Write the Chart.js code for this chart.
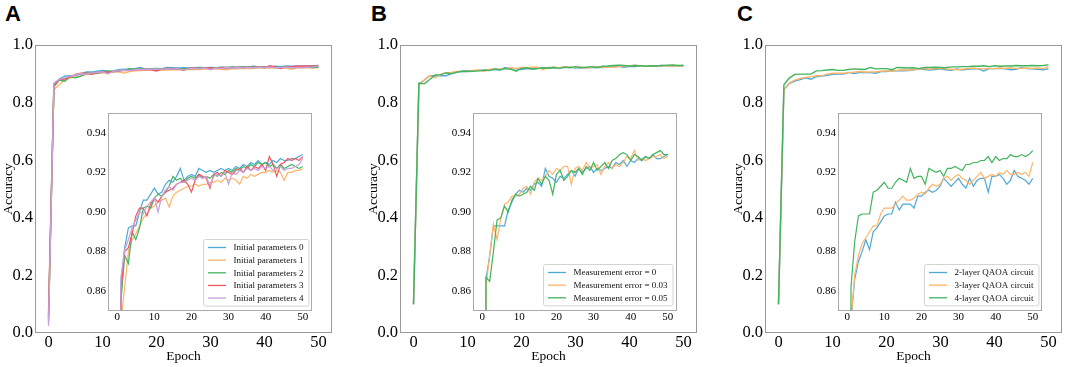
<!DOCTYPE html>
<html lang="en">
<head>
<meta charset="UTF-8">
<title>QAOA training accuracy</title>
<script src="https://cdn.jsdelivr.net/npm/chart.js"></script>
<style>
  body { margin: 0; background: #fff; width: 1065px; height: 367px; position: relative; overflow: hidden; }
  .tag { position: absolute; top: 1px; font: bold 22px 'Liberation Sans', Arial, sans-serif; color: #000; }
  canvas { position: absolute; }
</style>
</head>
<body>
<div class="tag" style="left:5px">A</div>
<div class="tag" style="left:371px">B</div>
<div class="tag" style="left:737px">C</div>

<canvas id="mainA" width="355" height="367" style="left:0;top:0"></canvas>
<canvas id="mainB" width="355" height="367" style="left:365px;top:0"></canvas>
<canvas id="mainC" width="335" height="367" style="left:730px;top:0"></canvas>
<canvas id="insetA" width="250" height="225" style="left:70px;top:100px"></canvas>
<canvas id="insetB" width="250" height="225" style="left:435px;top:100px"></canvas>
<canvas id="insetC" width="250" height="225" style="left:800px;top:100px"></canvas>

<script>
// epochs and tick labels
const epochs = [0, 1, 2, 3, 4, 5, 6, 7, 8, 9, 10, 11, 12, 13, 14, 15, 16, 17, 18, 19, 20,
  21, 22, 23, 24, 25, 26, 27, 28, 29, 30, 31, 32, 33, 34, 35, 36, 37, 38, 39, 40,
  41, 42, 43, 44, 45, 46, 47, 48, 49, 50];
const xTicks = [0, 10, 20, 30, 40, 50];
const mainYTicks = [0, 0.2, 0.4, 0.6, 0.8, 1.0];
const insetYTicks = [0.86, 0.88, 0.90, 0.92, 0.94];

// panel A: different initial parameters
const initLabels = ['Initial parameters 0', 'Initial parameters 1', 'Initial parameters 2',
  'Initial parameters 3', 'Initial parameters 4'];
const init0 = [0.05, 0.865, 0.882, 0.892, 0.893, 0.893, 0.900, 0.906, 0.906, 0.909, 0.912,
  0.909, 0.910, 0.914, 0.916, 0.915, 0.918, 0.922, 0.916, 0.918, 0.919,
  0.918, 0.922, 0.921, 0.920, 0.921, 0.920, 0.921, 0.922, 0.921, 0.922,
  0.921, 0.923, 0.922, 0.924, 0.923, 0.925, 0.924, 0.926, 0.924, 0.925,
  0.924, 0.926, 0.925, 0.927, 0.926, 0.926, 0.927, 0.927, 0.928, 0.929];
const init1 = [0.08, 0.845, 0.862, 0.880, 0.886, 0.889, 0.893, 0.897, 0.899, 0.902, 0.903,
  0.905, 0.906, 0.907, 0.9025, 0.908, 0.910, 0.911, 0.912, 0.913, 0.913,
  0.914, 0.913, 0.914, 0.914, 0.915, 0.915, 0.916, 0.915, 0.917, 0.916,
  0.917, 0.916, 0.914, 0.918, 0.917, 0.919, 0.918, 0.919, 0.920, 0.920,
  0.921, 0.920, 0.921, 0.920, 0.916, 0.920, 0.920, 0.921, 0.921, 0.922];
const init2 = [0.04, 0.855, 0.878, 0.874, 0.890, 0.886, 0.892, 0.902, 0.903, 0.902, 0.907,
  0.909, 0.908, 0.910, 0.913, 0.918, 0.916, 0.917, 0.915, 0.917, 0.918,
  0.917, 0.919, 0.917, 0.918, 0.917, 0.919, 0.918, 0.920, 0.919, 0.921,
  0.920, 0.922, 0.921, 0.923, 0.922, 0.924, 0.923, 0.925, 0.924, 0.925,
  0.923, 0.924, 0.922, 0.924, 0.922, 0.923, 0.924, 0.923, 0.922, 0.923];
const init3 = [0.06, 0.860, 0.880, 0.882, 0.889, 0.898, 0.902, 0.902, 0.898, 0.904, 0.907,
  0.905, 0.908, 0.910, 0.911, 0.912, 0.914, 0.915, 0.916, 0.914, 0.910,
  0.916, 0.919, 0.918, 0.917, 0.912, 0.919, 0.920, 0.918, 0.921, 0.920,
  0.919, 0.921, 0.922, 0.920, 0.923, 0.921, 0.923, 0.922, 0.924, 0.921,
  0.928, 0.924, 0.918, 0.924, 0.925, 0.927, 0.926, 0.927, 0.926, 0.928];
const init4 = [0.025, 0.867, 0.881, 0.886, 0.892, 0.896, 0.900, 0.899, 0.903, 0.905, 0.907,
  0.900, 0.908, 0.911, 0.913, 0.911, 0.914, 0.915, 0.915, 0.916, 0.917,
  0.916, 0.918, 0.917, 0.918, 0.913, 0.918, 0.919, 0.918, 0.920, 0.914,
  0.920, 0.919, 0.921, 0.920, 0.922, 0.921, 0.922, 0.921, 0.923, 0.922,
  0.923, 0.921, 0.922, 0.923, 0.921, 0.922, 0.922, 0.923, 0.924, 0.927];

// panel B: measurement error
const errLabels = ['Measurement error = 0', 'Measurement error = 0.03', 'Measurement error = 0.05'];
const err0 = [0.10, 0.866, 0.878, 0.893, 0.893, 0.893, 0.893, 0.901, 0.905, 0.909, 0.911,
  0.910, 0.912, 0.911, 0.914, 0.915, 0.913, 0.922, 0.918, 0.917, 0.915,
  0.918, 0.917, 0.919, 0.921, 0.918, 0.922, 0.920, 0.922, 0.923, 0.920,
  0.922, 0.921, 0.922, 0.923, 0.922, 0.925, 0.924, 0.926, 0.923, 0.926,
  0.925, 0.927, 0.926, 0.928, 0.927, 0.929, 0.927, 0.927, 0.928, 0.929];
const err003 = [0.10, 0.862, 0.878, 0.894, 0.886, 0.897, 0.904, 0.905, 0.908, 0.908, 0.909,
  0.912, 0.913, 0.909, 0.915, 0.917, 0.916, 0.918, 0.921, 0.919, 0.922,
  0.921, 0.923, 0.923, 0.914, 0.922, 0.923, 0.921, 0.925, 0.922, 0.923,
  0.924, 0.919, 0.923, 0.925, 0.922, 0.924, 0.923, 0.925, 0.928, 0.927,
  0.931, 0.926, 0.927, 0.926, 0.927, 0.928, 0.928, 0.929, 0.927, 0.928];
const err005 = [0.10, 0.867, 0.865, 0.880, 0.896, 0.897, 0.903, 0.900, 0.906, 0.909, 0.908,
  0.909, 0.910, 0.913, 0.911, 0.917, 0.914, 0.918, 0.916, 0.909, 0.919,
  0.921, 0.916, 0.918, 0.921, 0.920, 0.922, 0.919, 0.923, 0.921, 0.925,
  0.921, 0.923, 0.925, 0.922, 0.926, 0.927, 0.929, 0.930, 0.929, 0.926,
  0.929, 0.928, 0.926, 0.928, 0.927, 0.929, 0.930, 0.931, 0.929, 0.929];

// panel C: circuit depth
const layerLabels = ['2-layer QAOA circuit', '3-layer QAOA circuit', '4-layer QAOA circuit'];
const layer2 = [0.10, 0.845, 0.866, 0.875, 0.880, 0.886, 0.881, 0.890, 0.892, 0.895, 0.898,
  0.899, 0.899, 0.905, 0.901, 0.904, 0.904, 0.904, 0.902, 0.908, 0.908,
  0.910, 0.911, 0.910, 0.911, 0.913, 0.917, 0.915, 0.913, 0.915, 0.917,
  0.914, 0.912, 0.917, 0.913, 0.916, 0.917, 0.917, 0.910, 0.918, 0.918,
  0.919, 0.917, 0.914, 0.916, 0.921, 0.918, 0.917, 0.916, 0.914, 0.917];
const layer3 = [0.10, 0.845, 0.868, 0.878, 0.884, 0.887, 0.890, 0.893, 0.893, 0.899, 0.902,
  0.902, 0.902, 0.904, 0.906, 0.908, 0.906, 0.906, 0.907, 0.909, 0.910,
  0.909, 0.912, 0.914, 0.913, 0.914, 0.917, 0.918, 0.916, 0.918, 0.919,
  0.917, 0.916, 0.914, 0.916, 0.918, 0.920, 0.917, 0.918, 0.919, 0.918,
  0.920, 0.919, 0.921, 0.919, 0.919, 0.920, 0.919, 0.920, 0.918, 0.925];
const layer4 = [0.10, 0.862, 0.885, 0.898, 0.899, 0.899, 0.899, 0.910, 0.911, 0.913, 0.915,
  0.912, 0.912, 0.915, 0.917, 0.916, 0.915, 0.922, 0.917, 0.918, 0.918,
  0.914, 0.922, 0.921, 0.920, 0.921, 0.918, 0.922, 0.922, 0.923, 0.922,
  0.921, 0.924, 0.924, 0.925, 0.925, 0.926, 0.926, 0.928, 0.925, 0.928,
  0.926, 0.927, 0.927, 0.929, 0.928, 0.928, 0.929, 0.928, 0.929, 0.931];

const colors = ['#4ea9d8', '#ffb469', '#41b45e', '#f0575f', '#c9a0dc'];
const SERIF = "'Liberation Serif', 'Times New Roman', serif";

Chart.defaults.font.family = SERIF;
Chart.defaults.color = '#000';
Chart.defaults.animation = false;

// box around the plot area (matplotlib style spines)
const frameBox = {
  id: 'frameBox',
  afterDraw(chart, args, opts) {
    const { ctx, chartArea: a } = chart;
    ctx.save();
    ctx.strokeStyle = opts.color || '#999';
    ctx.lineWidth = 1;
    const l = Math.round(a.left) + 0.5, t = Math.round(a.top) + 0.5;
    const r = Math.round(a.right) - 0.5, b = Math.round(a.bottom) - 0.5;
    ctx.strokeRect(l, t, r - l, b - t);
    ctx.restore();
  }
};
Chart.register(frameBox);

// legend box drawn in the lower right corner of the inset
const insetLegend = {
  id: 'insetLegend',
  afterDraw(chart) {
    const { ctx, chartArea: a } = chart;
    const sets = chart.data.datasets;
    ctx.save();
    ctx.font = '9px ' + SERIF;
    const textW = Math.max(...sets.map(d => ctx.measureText(d.label).width));
    const pad = 4.5, handle = 18, gap = 7.5, rowH = 12.65;
    const w = pad + handle + gap + textW + pad + 1;
    const h = 16 + (sets.length - 1) * rowH;
    const x0 = Math.round(a.right - 4 - w) + 0.5, y0 = Math.round(a.bottom - 5.5 - h) + 0.5;
    ctx.fillStyle = 'rgba(255,255,255,0.85)';
    ctx.strokeStyle = '#d4d4d4';
    ctx.lineWidth = 1;
    ctx.beginPath();
    if (ctx.roundRect) ctx.roundRect(x0, y0, w, h, 2); else ctx.rect(x0, y0, w, h);
    ctx.fill();
    ctx.stroke();
    ctx.textBaseline = 'middle';
    sets.forEach((d, i) => {
      const cy = y0 + 8 + i * rowH;
      ctx.strokeStyle = d.borderColor;
      ctx.lineWidth = 1.3;
      ctx.beginPath();
      ctx.moveTo(x0 + pad, cy);
      ctx.lineTo(x0 + pad + handle, cy);
      ctx.stroke();
      ctx.fillStyle = '#111';
      ctx.fillText(d.label, x0 + pad + handle + gap, cy + 0.5);
    });
    ctx.restore();
  }
};

function fixTicks(list) {
  return scale => { scale.ticks = list.map(v => ({ value: v })); };
}

function makeSets(labels, series, width) {
  const n = series.length;
  return series.map((vals, i) => ({
    label: labels[i],
    data: epochs.map((e, k) => ({ x: e, y: vals[k] })),
    borderColor: colors[i],
    borderWidth: width,
    pointRadius: 0,
    tension: 0,
    fill: false,
    order: n - 1 - i   // later series on top, like matplotlib
  }));
}

const noGrid = { display: false, drawTicks: false, tickLength: 0 };

function drawMain(id, labels, series, rightPad) {
  new Chart(document.getElementById(id), {
    type: 'line',
    data: { datasets: makeSets(labels, series, 1.4) },
    options: {
      responsive: false,
      layout: { padding: { left: 0, top: 45, right: rightPad, bottom: 0 } },
      plugins: { legend: { display: false }, tooltip: { enabled: false }, frameBox: { color: '#999' } },
      scales: {
        x: {
          type: 'linear', min: -2.5, max: 52.5,
          afterBuildTicks: fixTicks(xTicks),
          grid: noGrid, border: { display: false },
          ticks: { font: { size: 16.5 }, padding: 0, maxRotation: 0, autoSkip: false, callback: v => String(v) },
          title: { display: true, text: 'Epoch', font: { size: 13.5 }, padding: { top: 0, bottom: 2 } },
          afterFit: s => { s.height = 34; }
        },
        y: {
          min: 0, max: 1,
          afterBuildTicks: fixTicks(mainYTicks),
          grid: noGrid, border: { display: false },
          ticks: { font: { size: 16.5 }, padding: 2, autoSkip: false, callback: v => v.toFixed(1) },
          title: { display: true, text: 'Accuracy', font: { size: 13.5 }, padding: { top: 0, bottom: 0 } },
          afterFit: s => { s.width = 35; }
        }
      }
    }
  });
}

function drawInset(id, labels, series) {
  new Chart(document.getElementById(id), {
    type: 'line',
    data: { datasets: makeSets(labels, series, 1.2) },
    options: {
      responsive: false,
      layout: { padding: { left: 0, top: 13, right: 8, bottom: 0 } },
      plugins: { legend: { display: false }, tooltip: { enabled: false }, frameBox: { color: '#aaa' } },
      scales: {
        x: {
          type: 'linear', min: -2.5, max: 52.5,
          afterBuildTicks: fixTicks(xTicks),
          grid: noGrid, border: { display: false },
          ticks: { font: { size: 11 }, padding: 0, maxRotation: 0, autoSkip: false, callback: v => String(v) },
          afterFit: s => { s.height = 14; }
        },
        y: {
          min: 0.85, max: 0.95,
          afterBuildTicks: fixTicks(insetYTicks),
          grid: noGrid, border: { display: false },
          ticks: { font: { size: 11 }, padding: 2, autoSkip: false, callback: v => v.toFixed(2) },
          afterFit: s => { s.width = 38; }
        }
      }
    },
    plugins: [insetLegend]
  });
}

drawMain('mainA', initLabels, [init0, init1, init2, init3, init4], 23);
drawMain('mainB', errLabels, [err0, err003, err005], 23);
drawMain('mainC', layerLabels, [layer2, layer3, layer4], 3);
drawInset('insetA', initLabels, [init0, init1, init2, init3, init4]);
drawInset('insetB', errLabels, [err0, err003, err005]);
drawInset('insetC', layerLabels, [layer2, layer3, layer4]);
</script>
</body>
</html>
